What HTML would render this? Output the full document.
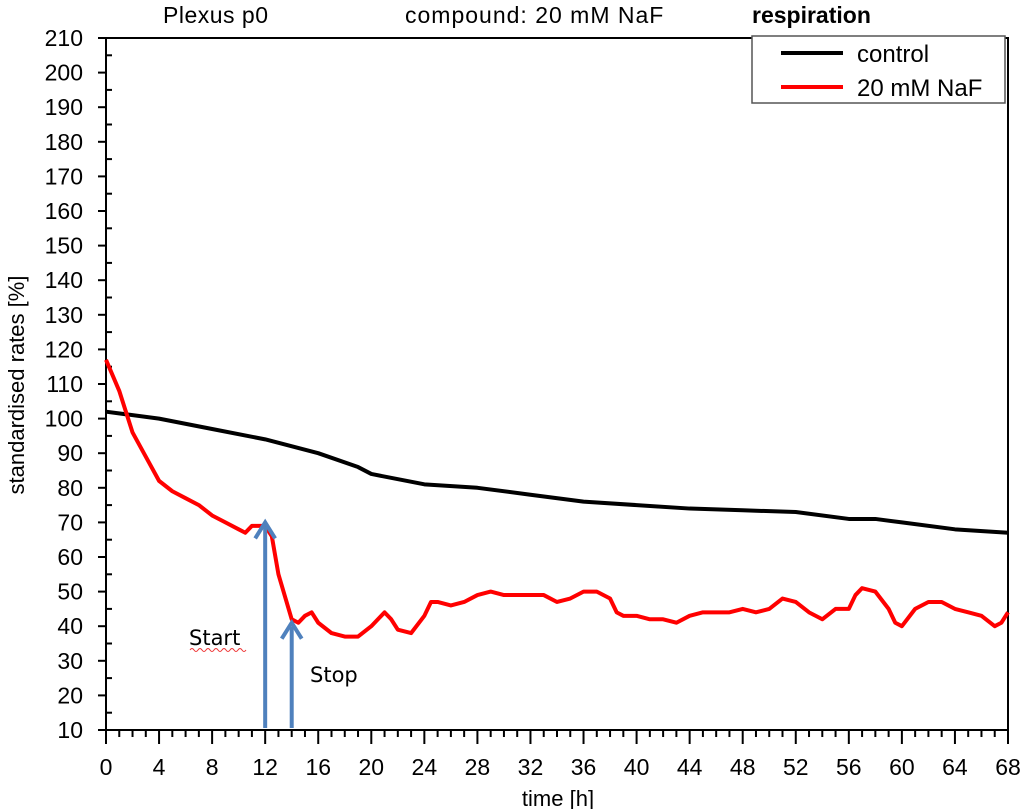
<!DOCTYPE html>
<html><head><meta charset="utf-8"><style>
body{margin:0;background:#fff;}
svg{display:block;font-family:"Liberation Sans",Arial,sans-serif;}
</style></head><body>
<svg id="chart" width="1024" height="809">
<text x="163" y="23" font-size="23" letter-spacing="0.5">Plexus p0</text>
<text x="405" y="23" font-size="23" letter-spacing="1">compound: 20 mM NaF</text>
<text x="752" y="23" font-size="23" font-weight="bold">respiration</text>
<g id="axes"></g>
<g id="series"></g>
<text x="558" y="806" font-size="22" text-anchor="middle">time [h]</text>
<text transform="translate(24,385) rotate(-90)" font-size="22" text-anchor="middle">standardised rates [%]</text>
<g>
<rect x="752" y="36" width="253" height="67" fill="#fff" stroke="#555" stroke-width="1.5"/>
<line x1="781" y1="53" x2="843" y2="53" stroke="#000" stroke-width="4"/>
<text x="857" y="62" font-size="24">control</text>
<line x1="781" y1="87" x2="843" y2="87" stroke="#f00" stroke-width="4"/>
<text x="857" y="96" font-size="24">20 mM NaF</text>
</g>
<text x="189" y="645" font-size="21" font-family="DejaVu Sans,sans-serif">Start</text>
<path d="M190 650 q2 -3 4 0 t4 0 t4 0 t4 0 t4 0 t4 0 t4 0 t4 0 t4 0 t4 0 t4 0 t4 0 t4 0 t4 0" stroke="#e33" fill="none" stroke-width="1"/>
<text x="310" y="682" font-size="21" font-family="DejaVu Sans,sans-serif">Stop</text>
</svg>
<script>
const yTicks=[10,20,30,40,50,60,70,80,90,100,110,120,130,140,150,160,170,180,190,200,210];
const xTicks=[0,4,8,12,16,20,24,28,32,36,40,44,48,52,56,60,64,68];
const controlT=[0,4,8,12,16,19,20,24,28,32,36,40,44,48,52,56,58,60,64,68];
const controlV=[102,100,97,94,90,86,84,81,80,78,76,75,74,73.5,73,71,71,70,68,67];
const nafT=[0,1,2,3,4,5,6,7,8,9,10,10.5,11,12,12.5,13,14,14.5,15,15.5,16,17,18,19,20,21,21.5,22,23,24,24.5,25,26,27,28,29,30,31,32,33,34,35,36,37,38,38.5,39,40,41,42,43,44,45,46,47,48,49,50,51,52,53,54,55,56,56.5,57,58,59,59.5,60,61,62,63,64,65,66,67,67.5,68];
const nafV=[117,108,96,89,82,79,77,75,72,70,68,67,69,69,66,55,42,41,43,44,41,38,37,37,40,44,42,39,38,43,47,47,46,47,49,50,49,49,49,49,47,48,50,50,48,44,43,43,42,42,41,43,44,44,44,45,44,45,48,47,44,42,45,45,49,51,50,45,41,40,45,47,47,45,44,43,40,41,44];
const arrowT=[12,14];
const arrowV=[70,41];
const X0=106,X1=1008,Y0=730,Y1=38;
const xs=t=>X0+(X1-X0)*t/68;
const ys=v=>Y0-(Y0-Y1)*(v-10)/200;
const NS='http://www.w3.org/2000/svg';
function mk(tag,attrs,parent){const e=document.createElementNS(NS,tag);for(const k in attrs)e.setAttribute(k,attrs[k]);parent.appendChild(e);return e;}
const ax=document.getElementById('axes');
const frame=mk('rect',{x:X0,y:Y1,width:X1-X0,height:Y0-Y1,fill:'none',stroke:'#000','stroke-width':2},ax);


for(let v=10;v<=210;v+=5){const major=v%10===0;mk('line',{x1:X0-(major?8:0),x2:X0+(major?0:6),y1:ys(v),y2:ys(v),stroke:'#000','stroke-width':2},ax);}
yTicks.forEach(v=>{const t=mk('text',{x:X0-23,y:ys(v)+8,'font-size':23,'text-anchor':'end'},ax);t.textContent=v;

});
for(let h=0;h<=68;h++){const major=h%4===0;mk('line',{x1:xs(h),x2:xs(h),y1:Y0,y2:Y0+(major?14:7),stroke:'#000','stroke-width':2},ax);}
xTicks.forEach(h=>{const t=mk('text',{x:xs(h),y:Y0+45,'font-size':23,'text-anchor':'middle'},ax);t.textContent=h;

});
const sg=document.getElementById('series');
function line(T,V,color,name){const p=mk('polyline',{points:T.map((t,i)=>xs(t)+','+ys(V[i])).join(' '),fill:'none',stroke:color,'stroke-width':4,'stroke-linejoin':'round'},sg);

}
line(controlT,controlV,'#000','control-line');
line(nafT,nafV,'#f00','naf-line');
arrowT.forEach((t,i)=>{const g=mk('g',{},sg);


const x=xs(t),y=ys(arrowV[i]);
mk('line',{x1:x,x2:x,y1:Y0-2,y2:y+4,stroke:'#4f81bd','stroke-width':4},g);
mk('path',{d:`M${x-10} ${y+16} L${x} ${y} L${x+10} ${y+16}`,fill:'none',stroke:'#4f81bd','stroke-width':4},g);});
</script>
</body></html>
